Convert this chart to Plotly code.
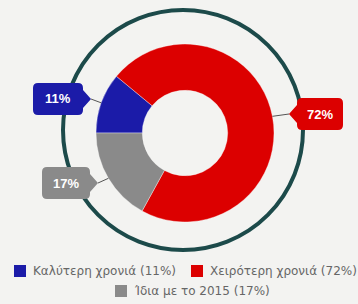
import math
import plotly.graph_objects as go

# ---- data ----
labels = ["Καλύτερη χρονιά", "Χειρότερη χρονιά", "Ίδια με το 2015"]
values = [11, 72, 17]
colors = ["#1b1ba8", "#dc0000", "#8a8a8a"]

W, H = 358, 304
BG = "#f3f3f1"

def px(x):
    return x / W

def py(y):
    return 1 - y / H

# donut geometry (pixels)
CX, CY, R = 185, 133, 89
ROT = 270  # first slice start angle, clockwise from 12 o'clock

fig = go.Figure()
fig.add_trace(go.Pie(
    labels=labels, values=values, sort=False, direction="clockwise",
    rotation=ROT, hole=0.48, textinfo="none", hoverinfo="label+percent",
    marker=dict(colors=colors, line=dict(color="rgba(255,255,255,0.6)", width=0.6)),
    domain=dict(x=[px(CX - R), px(CX + R)], y=[py(CY + R), py(CY - R)]),
    showlegend=False,
))

shapes = []
annotations = []

# outer ring
RC_X, RC_Y, RR = 183, 130, 120
shapes.append(dict(type="circle", xref="paper", yref="paper", layer="below",
                   x0=px(RC_X - RR), x1=px(RC_X + RR), y0=py(RC_Y + RR), y1=py(RC_Y - RR),
                   line=dict(color="#1c4a4a", width=4), fillcolor="rgba(0,0,0,0)"))

def callout_path(cx, cy, w, h, side, tip=8, half=9, r=5):
    x0, x1, y0, y1 = cx - w / 2, cx + w / 2, cy - h / 2, cy + h / 2
    pts = []
    def P(cmd, *xy):
        s = cmd
        for i in range(0, len(xy), 2):
            s += f" {px(xy[i]):.5f},{py(xy[i+1]):.5f}"
        pts.append(s)
    P("M", x0 + r, y0)
    P("L", x1 - r, y0)
    P("Q", x1, y0, x1, y0 + r)
    if side == "right":
        P("L", x1, cy - half); P("L", x1 + tip, cy); P("L", x1, cy + half)
    P("L", x1, y1 - r)
    P("Q", x1, y1, x1 - r, y1)
    P("L", x0 + r, y1)
    P("Q", x0, y1, x0, y1 - r)
    if side == "left":
        P("L", x0, cy + half); P("L", x0 - tip, cy); P("L", x0, cy - half)
    P("L", x0, y0 + r)
    P("Q", x0, y0, x0 + r, y0)
    return " ".join(pts) + " Z"

# callout boxes (center x, center y, width, height, pointer side)
boxes = [(58, 99, 50, 32, "right"), (320, 114, 46, 32, "left"), (66, 183, 48, 32, "right")]

total = sum(values)
start = ROT
for v, c, (bx, by, bw, bh, side) in zip(values, colors, boxes):
    span = 360 * v / total
    mid = math.radians(start + span / 2)
    start += span
    ex = CX + R * math.sin(mid)
    ey = CY - R * math.cos(mid)
    tipx = bx + bw / 2 + 8 if side == "right" else bx - bw / 2 - 8
    shapes.append(dict(type="line", xref="paper", yref="paper", layer="above",
                       x0=px(ex), y0=py(ey), x1=px(tipx), y1=py(by),
                       line=dict(color="#555555", width=1)))
    shapes.append(dict(type="path", xref="paper", yref="paper", layer="above",
                       path=callout_path(bx, by, bw, bh, side),
                       fillcolor=c, line=dict(width=0)))
    annotations.append(dict(xref="paper", yref="paper", x=px(bx), y=py(by),
                            text=f"<b>{v}%</b>", showarrow=False,
                            xanchor="center", yanchor="middle",
                            font=dict(color="white", size=13, family="Arial, Liberation Sans")))

# manual legend
legend_pos = [(14, 271), (191, 271), (115, 291)]
for lab, v, c, (lx, ly) in zip(labels, values, colors, legend_pos):
    shapes.append(dict(type="rect", xref="paper", yref="paper",
                       x0=px(lx), x1=px(lx + 12), y0=py(ly + 6), y1=py(ly - 6),
                       fillcolor=c, line=dict(width=0)))
    annotations.append(dict(xref="paper", yref="paper", x=px(lx + 17), y=py(ly),
                            text=f"{lab} ({v}%)", showarrow=False,
                            xanchor="left", yanchor="middle",
                            font=dict(color="#666666", size=12, family="DejaVu Sans")))

fig.update_layout(
    width=W, height=H, margin=dict(l=0, r=0, t=0, b=0),
    paper_bgcolor=BG, plot_bgcolor=BG,
    shapes=shapes, annotations=annotations, showlegend=False,
)

fig.write_html("out.html", config={"displayModeBar": False},
               post_script="document.body.style.margin='0';document.body.style.background='%s';" % BG)
